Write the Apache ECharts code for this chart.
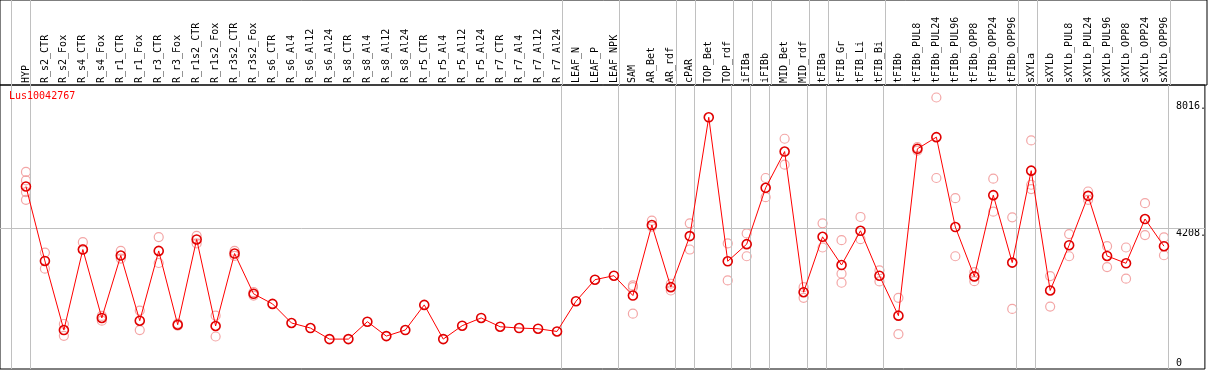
<!DOCTYPE html>
<html><head><meta charset="utf-8">
<script src="https://cdn.jsdelivr.net/npm/echarts@6/dist/echarts.min.js"></script>
<style>html,body{margin:0;padding:0;background:#fff}#c{width:1209px;height:370px}</style>
</head><body><div id="c"></div>
<script>
const geneName = 'Lus10042767';
const categories = ['HYP','R_s2_CTR','R_s2_Fox','R_s4_CTR','R_s4_Fox','R_r1_CTR','R_r1_Fox','R_r3_CTR','R_r3_Fox','R_r1s2_CTR','R_r1s2_Fox','R_r3s2_CTR','R_r3s2_Fox','R_s6_CTR','R_s6_Al4','R_s6_Al12','R_s6_Al24','R_s8_CTR','R_s8_Al4','R_s8_Al12','R_s8_Al24','R_r5_CTR','R_r5_Al4','R_r5_Al12','R_r5_Al24','R_r7_CTR','R_r7_Al4','R_r7_Al12','R_r7_Al24','LEAF_N','LEAF_P','LEAF_NPK','SAM','AR_Bet','AR_rdf','cPAR','TOP_Bet','TOP_rdf','iFIBa','iFIBb','MID_Bet','MID_rdf','tFIBa','tFIB_Gr','tFIB_Li','tFIB_Bi','tFIBb','tFIBb_PUL8','tFIBb_PUL24','tFIBb_PUL96','tFIBb_OPP8','tFIBb_OPP24','tFIBb_OPP96','sXYLa','sXYLb','sXYLb_PUL8','sXYLb_PUL24','sXYLb_PUL96','sXYLb_OPP8','sXYLb_OPP24','sXYLb_OPP96'];
const meanValues = [5463,3233,1166,3576,1528,3396,1446,3534,1326,3878,1287,3456,2251,1949,1377,1226,895,895,1416,985,1166,1919,895,1296,1528,1265,1226,1205,1124,2028,2673,2793,2199,4309,2450,3977,7533,3224,3736,5423,6508,2299,3956,3112,4137,2793,1597,6590,6939,4248,2772,5203,3185,5936,2350,3706,5182,3384,3164,4489,3676];
const replicateValues = [[5897,5643,5294,5062],[3486,3004],[1347,994],[3796,3585],[1588,1446],[3534,3305],[1748,1166],[3947,3173],[1356,1296],[3986,3757],[1597,973],[3534,3384],[2299,2199],[],[],[],[],[],[],[],[],[],[],[],[],[],[],[],[],[],[],[],[2450,2501,1657],[4438,4257],[2552,2350],[4360,3576],[],[3757,2651],[4059,3375],[5716,5143],[6891,6116],[2450,2130],[4360,3637],[3857,2853,2582],[4550,3887],[2953,2621],[2130,1046],[6640,6538],[8126,5716],[5113,3375],[2902,2630],[5695,4709],[4541,1799],[6840,5514,5384],[2781,1868],[4037,3375],[5312,5062],[3676,3052],[3637,2703],[4962,4007],[3938,3405]];
const groupEnds = ['HYP','R_r7_Al24','LEAF_NPK','AR_rdf','cPAR','TOP_rdf','iFIBa','iFIBb','MID_rdf','tFIBa','tFIB_Bi','tFIBb_OPP96','sXYLa','sXYLb_OPP96'];
const yTickValues = [0, 4208, 8016];
const yTickLabels = ['0', '4208.', '8016.'];

const FONT = 'DejaVu Sans Mono';
const xMin = -26/19, xMax = 1181/19, lineOffset = 4/19;
const boundaries = [-1].concat(groupEnds.map(n => categories.indexOf(n))).map(i => i + lineOffset);
const vLines = boundaries.map(x => ({xAxis: x}));
const mainData = meanValues.map((v, i) => [i, v]);
const repData = [];
replicateValues.forEach((arr, i) => arr.forEach(v => repData.push([i, v])));
const gridLineStyle = {color: '#c0c0c0', width: 1, type: 'solid'};

const chart = echarts.init(document.getElementById('c'), null, {renderer: 'canvas'});
chart.setOption({
  animation: false,
  backgroundColor: '#fff',
  title: {text: geneName, left: 4, top: 86, textStyle: {color: '#ff0000', fontSize: 10, fontFamily: FONT, fontWeight: 'normal'}},
  grid: [
    {left: 0, top: 0, width: 1207, height: 85, show: true, borderColor: '#000', borderWidth: 1},
    {left: 0, top: 85, width: 1207, height: 284, show: true, borderColor: '#000', borderWidth: 1}
  ],
  xAxis: [
    {gridIndex: 0, type: 'value', min: xMin, max: xMax, show: false},
    {gridIndex: 1, type: 'value', position: 'top', min: xMin, max: xMax,
     axisLine: {show: false}, axisTick: {show: false}, splitLine: {show: false},
     axisLabel: {customValues: categories.map((c, i) => i), formatter: v => categories[Math.round(v)] || '',
       rotate: 90, margin: 2, fontSize: 10, fontFamily: FONT, color: '#000'}}
  ],
  yAxis: [
    {gridIndex: 0, type: 'value', min: 0, max: 1, show: false},
    {gridIndex: 1, type: 'value', position: 'right', min: 0, max: 8500,
     axisLine: {show: false}, axisTick: {show: false}, splitLine: {show: false},
     axisLabel: {inside: true, margin: 29, align: 'left', customValues: yTickValues, fontSize: 10, fontFamily: FONT, color: '#000',
       formatter: v => { const k = yTickValues.indexOf(v); const t = yTickLabels[k] || ''; return v === 0 ? '{dn|' + t + '}' : '{up|' + t + '}'; },
       rich: {up: {fontSize: 10, fontFamily: FONT, color: '#000', padding: [10, 0, 0, 0]},
              dn: {fontSize: 10, fontFamily: FONT, color: '#000', padding: [0, 0, 12, 0]}}}}
  ],
  series: [
    {type: 'line', xAxisIndex: 0, yAxisIndex: 0, data: [], silent: true, z: 1,
     markLine: {silent: true, symbol: 'none', label: {show: false}, lineStyle: gridLineStyle, animation: false, data: vLines}},
    {type: 'line', xAxisIndex: 1, yAxisIndex: 1, data: [], silent: true, z: 1,
     markLine: {silent: true, symbol: 'none', label: {show: false}, lineStyle: gridLineStyle, animation: false,
       data: vLines.concat([{yAxis: yTickValues[1]}])}},
    {type: 'scatter', xAxisIndex: 1, yAxisIndex: 1, data: repData, z: 3,
     symbol: 'circle', symbolSize: 9,
     itemStyle: {color: 'rgba(0,0,0,0)', borderColor: '#f09090', borderWidth: 1.2}},
    {type: 'line', xAxisIndex: 1, yAxisIndex: 1, data: mainData, z: 5,
     symbol: 'circle', symbolSize: 9, showAllSymbol: true,
     lineStyle: {color: '#ff0000', width: 1},
     itemStyle: {color: 'rgba(0,0,0,0)', borderColor: '#e00000', borderWidth: 1.6}}
  ]
});
</script></body></html>
